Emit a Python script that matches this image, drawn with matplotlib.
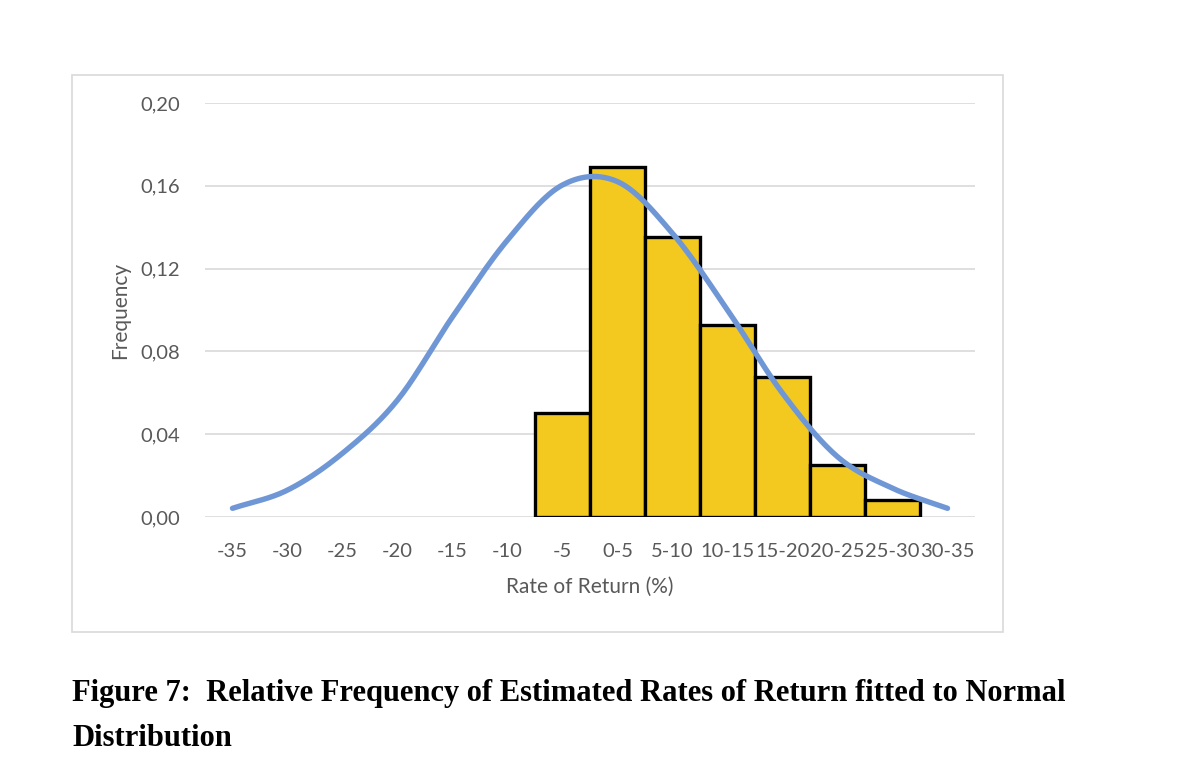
import numpy as np
import matplotlib.pyplot as plt
from matplotlib.patches import Rectangle

# data
categories = ['-35', '-30', '-25', '-20', '-15', '-10', '-5', '0-5', '5-10',
              '10-15', '15-20', '20-25', '25-30', '30-35']
rel_freq = [0, 0, 0, 0, 0, 0, 0.0504, 0.1692, 0.1354, 0.0928, 0.0675, 0.0251, 0.0082, 0]
normal_fit = [0.0042, 0.013, 0.0308, 0.0565, 0.0967, 0.1338, 0.1604, 0.162,
              0.137, 0.100, 0.0598, 0.0291, 0.0139, 0.0042]
y_ticks = [0.00, 0.04, 0.08, 0.12, 0.16, 0.20]


def smooth(xs, ys, n=20):
    # catmull-rom, like excel's smoothed line
    xs = np.asarray(xs, float)
    ys = np.asarray(ys, float)
    px = np.concatenate([[2 * xs[0] - xs[1]], xs, [2 * xs[-1] - xs[-2]]])
    py = np.concatenate([[2 * ys[0] - ys[1]], ys, [2 * ys[-1] - ys[-2]]])
    t = np.linspace(0, 1, n, endpoint=False)
    ox, oy = [], []
    for i in range(1, len(px) - 2):
        for p, o in ((px, ox), (py, oy)):
            p0, p1, p2, p3 = p[i - 1], p[i], p[i + 1], p[i + 2]
            o.extend(0.5 * (2 * p1 + (-p0 + p2) * t + (2 * p0 - 5 * p1 + 4 * p2 - p3) * t ** 2
                            + (-p0 + 3 * p1 - 3 * p2 + p3) * t ** 3))
    ox.append(xs[-1])
    oy.append(ys[-1])
    return np.array(ox), np.array(oy)


plt.rcParams['font.family'] = ['Lato', 'DejaVu Sans']

fig = plt.figure(figsize=(12, 7.65), dpi=100)
fig.patches.append(Rectangle((72 / 1200, 1 - 632 / 765), 931 / 1200, 557 / 765,
                             transform=fig.transFigure, fill=False,
                             edgecolor='#d9d9d9', linewidth=1.2))

ax = fig.add_axes([205 / 1200, 1 - 517 / 765, 770 / 1200, 414 / 765])
x = np.arange(len(categories))
edges = ['black' if v > 0 else 'none' for v in rel_freq]
ax.bar(x, rel_freq, width=1.0, color='#f3c81f', edgecolor=edges, linewidth=2.4, zorder=2)
sx, sy = smooth(x, normal_fit)
ax.plot(sx, sy, color='#6f97d6', linewidth=3.9, solid_capstyle='round', zorder=3, clip_on=False)

ax.set_xlim(-0.5, len(categories) - 0.5)
ax.set_ylim(0, 0.2)
ax.set_yticks(y_ticks)
ax.set_yticklabels([f'{v:.2f}'.replace('.', ',') for v in y_ticks])
ax.set_xticks(x)
ax.set_xticklabels(categories)
ax.grid(axis='y', color='#d9d9d9', linewidth=1.2, zorder=0)
ax.set_axisbelow(True)
for s in ax.spines.values():
    s.set_visible(False)
ax.tick_params(length=0, labelsize=14.5, colors='#595959', pad=19)
ax.tick_params(axis='y', pad=18)
ax.set_xlabel('Rate of Return (%)', fontsize=15, color='#595959', labelpad=12)
ax.set_ylabel('Frequency', fontsize=15, color='#595959', labelpad=7)

fig.text(72 / 1200, 1 - 693 / 765, 'Figure 7:  Relative Frequency of Estimated Rates of Return fitted to Normal',
         family='Liberation Serif', weight='bold', fontsize=22, va='center')
fig.text(72 / 1200, 1 - 738 / 765, 'Distribution',
         family='Liberation Serif', weight='bold', fontsize=22, va='center')

fig.savefig('out.png', dpi=100)
